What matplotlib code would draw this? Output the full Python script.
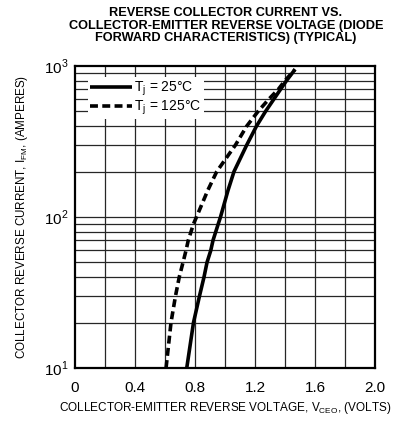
import matplotlib
matplotlib.use("Agg")
import matplotlib.pyplot as plt
import numpy as np
from matplotlib.ticker import FixedLocator, NullFormatter

plt.rcParams['font.family'] = ['Liberation Sans', 'DejaVu Sans']

# Data
i_25 = [10, 20, 30, 40, 50, 60, 70, 90, 100, 150, 200, 300, 400, 500, 700, 800, 950]
v_25 = [0.745, 0.79, 0.83, 0.86, 0.88, 0.905, 0.92, 0.955, 0.97, 1.02, 1.06, 1.145, 1.21, 1.27, 1.37, 1.41, 1.467]
i_125 = [10, 20, 30, 40, 50, 60, 70, 90, 100, 150, 200, 300, 400, 500, 600, 700, 800, 950]
v_125 = [0.607, 0.64, 0.67, 0.695, 0.72, 0.74, 0.755, 0.79, 0.81, 0.885, 0.945, 1.07, 1.145, 1.22, 1.29, 1.355, 1.40, 1.467]
xticks = [0, 0.4, 0.8, 1.2, 1.6, 2.0]
xtick_labels = ["0", "0.4", "0.8", "1.2", "1.6", "2.0"]

fig = plt.figure(figsize=(4.01, 4.21), dpi=100)
ax = fig.add_axes([75/401, 1-368/421, 300/401, 302/421])

ax.set_yscale('log')
ax.set_xlim(0, 2.0)
ax.set_ylim(10, 1000)

# grid
for x in np.arange(0.2, 2.0, 0.2):
    ax.axvline(x, color='0.15', lw=0.9, zorder=1)
for dec in [10, 100]:
    for m in range(1, 10):
        y = dec * m
        if 10 < y < 1000:
            ax.axhline(y, color='0.15', lw=0.9, zorder=1)

ax.plot(v_25, i_25, color='black', lw=2.6, solid_capstyle='butt', zorder=3,
        label='T$_\\mathregular{j}$ = 25°C')
ax.plot(v_125, i_125, color='black', lw=2.6, dashes=(2.2, 1.2), zorder=3,
        label='T$_\\mathregular{j}$ = 125°C')

ax.set_xticks(xticks)
ax.set_xticklabels(xtick_labels, fontsize=11)
ax.yaxis.set_major_locator(FixedLocator([10, 100, 1000]))
ax.set_yticklabels(['10$^\\mathregular{1}$', '10$^\\mathregular{2}$', '10$^\\mathregular{3}$'], fontsize=11)
ax.yaxis.set_minor_formatter(NullFormatter())
ax.tick_params(axis='both', which='both', length=0)
ax.tick_params(axis='x', pad=9)
ax.tick_params(axis='y', pad=5)
for s in ax.spines.values():
    s.set_linewidth(1.6)

leg = ax.legend(loc='upper left', bbox_to_anchor=(0.02, 0.985), fontsize=10,
                handlelength=3.0, handletextpad=0.2, borderpad=0.15,
                labelspacing=0.05, framealpha=1, fancybox=False)
leg.get_frame().set_edgecolor('none')
leg.set_zorder(2)

tx = 226/401
fig.text(tx, 1-13/421, "REVERSE COLLECTOR CURRENT VS.", ha='center', va='center',
         fontsize=9.2, fontweight='bold')
fig.text(tx, 1-25.5/421, "COLLECTOR-EMITTER REVERSE VOLTAGE (DIODE", ha='center', va='center',
         fontsize=9.2, fontweight='bold')
fig.text(tx, 1-38/421, "FORWARD CHARACTERISTICS) (TYPICAL)", ha='center', va='center',
         fontsize=9.2, fontweight='bold')

ax.set_xlabel('COLLECTOR-EMITTER REVERSE VOLTAGE, V$_\\mathregular{CEO}$, (VOLTS)', fontsize=8.5, labelpad=4)
ax.set_ylabel('COLLECTOR REVERSE CURRENT, I$_\\mathregular{FM}$, (AMPERES)', fontsize=8.4, labelpad=10)

fig.savefig('out.png', dpi=100)
